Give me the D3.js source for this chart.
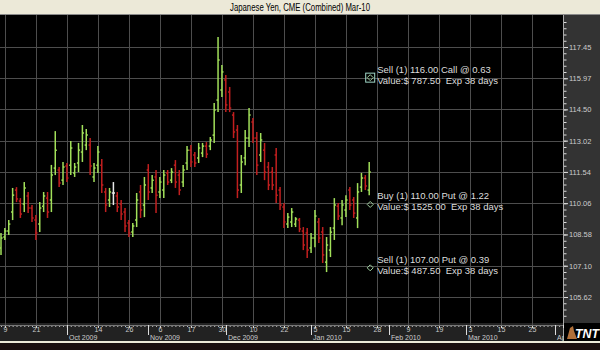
<!DOCTYPE html>
<html lang="en">
<head>
<meta charset="UTF-8">
<title>Japanese Yen, CME (Combined) Mar-10</title>
<script src="https://d3js.org/d3.v7.min.js"></script>
<style>
  body { margin: 0; background: #000; }
  svg { display: block; font-family: "Liberation Sans", Arial, sans-serif; }
</style>
</head>
<body>
<svg width="600" height="350"></svg>
<script>
// daily OHLC, Sep 8 2009 .. Jan 26 2010 (bar index 0..95)
const opens = [107.94,108.46,108.74,109.64,110.68,110.16,110.02,110.40,109.83,109.26,
  109.07,109.92,110.30,110.21,111.72,111.63,111.15,111.82,111.86,111.49,
  111.96,112.48,112.81,112.81,111.30,111.86,111.86,110.59,110.21,110.54,
  110.40,110.02,109.64,109.12,108.69,109.26,110.59,109.97,111.63,110.78,
  111.30,110.59,110.68,111.49,111.15,111.86,111.39,111.06,111.96,112.57,
  112.34,112.20,112.43,112.76,112.76,113.28,114.94,115.41,115.89,115.32,
  114.23,113.52,110.92,112.20,113.14,113.90,113.14,112.34,112.57,111.77,
  111.53,112.34,110.68,109.88,109.07,109.17,109.07,109.26,108.74,108.65,
  107.94,108.41,109.17,108.69,107.27,107.84,108.88,109.92,109.36,109.74,
  110.68,110.21,109.36,110.82,111.25,110.68];
const highs = [108.65,108.88,109.26,110.78,110.82,110.30,111.06,110.59,109.97,109.50,
  110.11,110.59,110.59,111.87,113.47,111.77,112.01,111.96,113.00,111.96,
  112.91,113.76,113.57,113.14,111.96,112.76,112.15,110.78,110.78,111.06,
  110.59,110.21,109.83,109.26,109.12,110.54,110.92,111.30,111.91,111.39,
  111.63,111.30,111.63,111.63,111.72,112.10,111.63,111.87,112.76,112.81,
  112.48,112.91,112.91,112.95,113.19,114.80,117.92,116.60,116.12,115.56,
  114.37,113.76,112.34,113.52,114.56,114.09,113.43,113.38,112.91,112.01,
  111.77,112.67,110.82,110.07,109.59,109.83,109.40,109.36,108.93,108.88,
  108.65,109.74,109.36,108.93,108.46,108.93,110.30,110.07,110.21,110.44,
  110.82,110.35,111.01,111.49,111.39,112.01];
const lows = [107.61,108.32,108.55,109.26,110.11,109.36,109.64,109.59,109.17,108.32,
  108.69,109.64,109.36,109.64,111.39,110.82,110.92,111.06,111.39,111.30,
  111.53,112.01,112.57,111.39,111.06,111.49,110.54,109.64,109.88,109.97,
  109.64,109.26,108.69,108.46,108.46,108.93,109.36,109.40,110.21,110.54,
  109.59,110.30,110.30,110.92,111.01,110.78,110.44,110.82,111.63,111.77,
  111.77,111.96,112.24,112.20,112.57,112.91,114.37,115.08,114.37,114.37,
  113.14,110.30,110.54,111.86,112.72,112.91,111.39,112.01,111.15,110.68,
  110.68,110.07,109.74,108.88,108.88,108.93,108.93,108.69,107.84,107.46,
  107.70,107.98,108.17,107.23,106.80,107.51,108.32,109.26,109.02,109.40,
  109.74,109.36,108.88,110.59,110.68,110.44];
const closes = [108.41,108.74,109.07,110.44,110.26,109.55,110.78,109.83,109.36,108.65,
  109.83,110.40,109.64,111.39,112.57,111.01,111.77,111.25,112.67,111.77,
  112.57,113.38,113.28,111.82,111.72,112.48,110.92,109.97,110.59,110.54,
  109.88,109.55,108.98,108.65,108.98,110.21,109.74,110.92,110.59,111.15,
  110.44,111.06,111.39,111.06,111.53,111.06,110.68,111.63,112.57,112.01,
  111.96,112.67,112.76,112.38,113.05,114.47,116.83,116.27,114.71,114.56,
  113.43,110.68,112.01,113.14,114.23,113.14,111.86,113.05,111.53,110.92,
  110.92,110.44,109.97,109.17,109.40,109.64,109.31,108.84,108.08,107.84,
  108.41,109.45,108.41,107.61,108.08,108.69,109.97,109.45,109.97,110.21,
  109.97,109.59,110.59,111.25,110.87,111.53];

const priceTicks = [105.62, 107.10, 108.58, 110.06, 111.54, 113.02, 114.50, 115.97, 117.45];
const dayTickBars = [1, 9, 17, 25, 33, 41, 49, 57, 65, 73, 81, 89, 97, 105, 113, 121, 129, 137, 145];
const dayLabels = ["9", "21", "", "14", "26", "6", "17", "30", "10", "22", "5", "15", "28", "9", "19", "3", "15", "25", ""];
const monthBars = [17, 38, 58, 80, 100, 120, 143];
// the April label is cut off by the logo in the original
const monthLabels = ["Oct 2009", "Nov 2009", "Dec 2009", "Jan 2010", "Feb 2010", "Mar 2010", "Ap"];

const tradePrices = [116.00, 110.00, 107.00];
const tradeBar = 95;
const tradeLine1 = ["Sell (1) 116.00 Call @ 0.63", "Buy (1) 110.00 Put @ 1.22", "Sell (1) 107.00 Put @ 0.39"];
const tradeLine2 = ["Value:$ 787.50  Exp 38 days", "Value:$ 1525.00  Exp 38 days", "Value:$ 487.50  Exp 38 days"];

const svg = d3.select("svg");
const W = 600, H = 350;
const plot = { left: 0, right: 563, top: 15, bottom: 323 };

const x = d3.scaleLinear().domain([0, 145]).range([1, 563]);
const y = d3.scaleLinear().domain([105.62, 117.45]).range([297, 47]);

// backgrounds
svg.append("rect").attr("width", W).attr("height", H).attr("fill", "#000");
svg.append("rect").attr("x", plot.right).attr("y", plot.top).attr("width", W - plot.right).attr("height", 327)
  .attr("fill", "#333");
svg.append("rect").attr("x", 0).attr("y", plot.bottom).attr("width", plot.right).attr("height", 18)
  .attr("fill", "#222");

// title bar
svg.append("rect").attr("width", W).attr("height", 14).attr("fill", "#ece9d8");
svg.append("line").attr("x1", 0).attr("x2", W).attr("y1", 14.5).attr("y2", 14.5).attr("stroke", "#8a8a8a");
svg.append("text").attr("x", 300).attr("y", 11).attr("text-anchor", "middle")
  .attr("font-size", 10).attr("fill", "#000")
  .attr("textLength", 140).attr("lengthAdjust", "spacingAndGlyphs")
  .text("Japanese Yen, CME (Combined) Mar-10");

// grid
const grid = svg.append("g").attr("stroke", "#4d4d4d").attr("stroke-width", 1);
grid.selectAll(".v").data(dayTickBars).join("line")
  .attr("x1", d => Math.round(x(d)) + 0.5).attr("x2", d => Math.round(x(d)) + 0.5)
  .attr("y1", plot.top).attr("y2", 325);
grid.selectAll(".h").data(priceTicks).join("line")
  .attr("x1", 0).attr("x2", plot.right)
  .attr("y1", d => Math.round(y(d)) + 0.5).attr("y2", d => Math.round(y(d)) + 0.5);

// right price axis
const yMinor = d3.range(-3, 50).map(k => 105.62 + k * (117.45 - 105.62) / 40)
  .filter(v => y(v) > plot.top + 2 && y(v) < 340);
const yAxis = svg.append("g").attr("transform", `translate(${plot.right},0)`);
yAxis.append("g").call(d3.axisRight(y).tickValues(yMinor).tickSize(3).tickFormat(""))
  .call(g => g.select(".domain").remove())
  .selectAll("line").attr("stroke", "#ddd").attr("transform", "translate(0.5,0)");
yAxis.append("g").call(d3.axisRight(y).tickValues(priceTicks).tickSize(5).tickPadding(1)
    .tickFormat(d3.format(".2f")))
  .call(g => g.select(".domain").remove())
  .call(g => g.selectAll("line").attr("stroke", "#ddd"))
  .call(g => g.selectAll("text").attr("fill", "#ccc").attr("font-size", 7.5)
    .attr("font-family", "Liberation Sans, Arial, sans-serif"));
yAxis.append("line").attr("x1", 0.5).attr("x2", 0.5).attr("y1", plot.top).attr("y2", 341).attr("stroke", "#aaa");

// bottom date axis
const xAxis = svg.append("g").attr("transform", "translate(0,325)");
xAxis.append("g").call(d3.axisBottom(x).tickValues(d3.range(0, 146)).tickSize(2).tickFormat(""))
  .call(g => g.select(".domain").remove())
  .selectAll("line").attr("stroke", "#bbb");
xAxis.append("g").call(d3.axisBottom(x).tickValues(dayTickBars).tickSize(3).tickPadding(1)
    .tickFormat((d, i) => dayLabels[i]))
  .call(g => g.select(".domain").remove())
  .call(g => g.selectAll("line").attr("stroke", "#ddd"))
  .call(g => g.selectAll("text").attr("fill", "#ccc").attr("font-size", 7)
    .attr("y", 6.5).attr("dy", null)
    .attr("font-family", "Liberation Sans, Arial, sans-serif"));
xAxis.append("line").attr("x1", 0).attr("x2", plot.right).attr("y1", 0.5).attr("y2", 0.5).attr("stroke", "#777");
const months = xAxis.selectAll(".month").data(monthBars).join("g")
  .attr("transform", d => `translate(${Math.round(x(d)) + 0.5},0)`);
months.append("line").attr("y1", 0).attr("y2", 10).attr("stroke", "#ddd");
months.append("text").attr("x", 1.5).attr("y", 14.5).attr("fill", "#ccc").attr("font-size", 7)
  .text((d, i) => monthLabels[i]);

// bottom strip
svg.append("rect").attr("x", 0).attr("y", 341).attr("width", W).attr("height", 2).attr("fill", "#ece9d8");
svg.append("rect").attr("x", 0).attr("y", 343).attr("width", W).attr("height", 7).attr("fill", "#1a0f0f");

// OHLC bars
const bars = opens.map((o, i) => ({ i, o, h: highs[i], l: lows[i], c: closes[i] }));
const color = d => d.c > d.o ? "#a2e05a" : d.c < d.o ? "#c21f1f" : "#e8e8e8";
const bg = svg.append("g").attr("stroke-width", 1.5);
const bar = bg.selectAll("g").data(bars).join("g")
  .attr("stroke", color)
  .attr("transform", d => `translate(${x(d.i)},0)`);
bar.append("line").attr("y1", d => y(d.h)).attr("y2", d => y(d.l));
bar.append("line").attr("x1", -1.6).attr("x2", 0).attr("y1", d => y(d.o)).attr("y2", d => y(d.o));
bar.append("line").attr("x1", 0).attr("x2", 1.6).attr("y1", d => y(d.c)).attr("y2", d => y(d.c));

// option trade markers
const tr = svg.append("g").selectAll("g").data(tradePrices).join("g")
  .attr("transform", d => `translate(${x(tradeBar) + 1},${y(d)})`);
tr.append("path").attr("d", "M0,-3L3,0L0,3L-3,0Z").attr("fill", "none").attr("stroke", "#9fcf9f");
tr.filter((d, i) => i === 0).append("rect").attr("x", -4.5).attr("y", -4.5).attr("width", 9).attr("height", 9)
  .attr("fill", "none").attr("stroke", "#9fd6c6");
tr.append("text").attr("x", 7).attr("y", -5).attr("fill", "#ddd").attr("font-size", 9.5)
  .style("white-space", "pre")
  .text((d, i) => tradeLine1[i]);
tr.append("text").attr("x", 7).attr("y", 6).attr("fill", "#ddd").attr("font-size", 9.5)
  .style("white-space", "pre")
  .text((d, i) => tradeLine2[i]);

// TNT logo
const logo = svg.append("g").attr("transform", "translate(564,323)");
logo.append("rect").attr("width", 36).attr("height", 18).attr("fill", "#000");
logo.append("path").attr("d", "M3,16L6,5L9,3L10,8L13,16Z").attr("fill", "#b0703a");
logo.append("text").attr("x", 11).attr("y", 15).attr("fill", "#fff").attr("font-size", 13)
  .attr("font-weight", "bold").attr("font-style", "italic").attr("textLength", 24)
  .attr("lengthAdjust", "spacingAndGlyphs").text("TNT");
</script>
</body>
</html>
